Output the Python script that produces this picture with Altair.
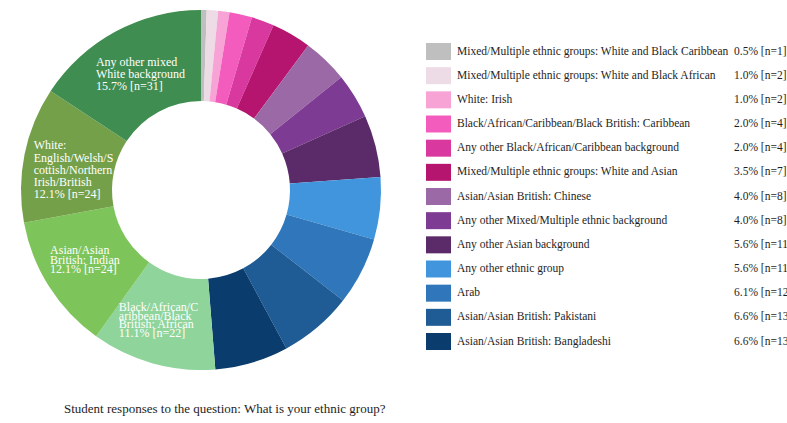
import altair as alt
import pandas as pd

categories = [
    "Mixed/Multiple ethnic groups: White and Black Caribbean",
    "Mixed/Multiple ethnic groups: White and Black African",
    "White: Irish",
    "Black/African/Caribbean/Black British: Caribbean",
    "Any other Black/African/Caribbean background",
    "Mixed/Multiple ethnic groups: White and Asian",
    "Asian/Asian British: Chinese",
    "Any other Mixed/Multiple ethnic background",
    "Any other Asian background",
    "Any other ethnic group",
    "Arab",
    "Asian/Asian British: Pakistani",
    "Asian/Asian British: Bangladeshi",
    "Black/African/Caribbean/Black British: African",
    "Asian/Asian British: Indian",
    "White: English/Welsh/Scottish/Northern Irish/British",
    "Any other mixed White background",
]
counts = [1, 2, 2, 4, 4, 7, 8, 8, 11, 11, 12, 13, 13, 22, 24, 24, 31]
percents = [0.5, 1.0, 1.0, 2.0, 2.0, 3.5, 4.0, 4.0, 5.6, 5.6, 6.1, 6.6, 6.6,
            11.1, 12.1, 12.1, 15.7]
colors = [
    "#bfbfbf", "#eddbe6", "#f7a3d6", "#f35cbd", "#d9389e", "#b5156f",
    "#9b69a6", "#7e3b93", "#5b2a68", "#4095dc", "#2f77ba", "#1f5b94",
    "#0a3c6e", "#8fd49a", "#7dc45a", "#74a04a", "#3f8d50",
]
slice_labels = [""] * 13 + [
    "Black/African/C\naribbean/Black\nBritish: African\n11.1% [n=22]",
    "Asian/Asian\nBritish: Indian\n12.1% [n=24]",
    "White:\nEnglish/Welsh/S\ncottish/Northern\nIrish/British\n12.1% [n=24]",
    "Any other mixed\nWhite background\n15.7% [n=31]",
]
legend_rows = 13
caption = "Student responses to the question: What is your ethnic group?"

df = pd.DataFrame({
    "category": categories,
    "n": counts,
    "pct": percents,
    "order": list(range(len(categories))),
    "slice_label": slice_labels,
})
df["value_label"] = [f"{p:.1f}% [n={n}]" for p, n in zip(percents, counts)]

FONT = "Liberation Serif"
TEXT_COLOR = "#1e1e1e"
CX, CY = 201, 190

base = alt.Chart(df)
color = alt.Color("category:N", scale=alt.Scale(domain=categories, range=colors), legend=None)
theta = alt.Theta("n:Q", stack=True)
order = alt.Order("order:Q")

donut = base.mark_arc(outerRadius=180, innerRadius=89).encode(
    theta=theta, order=order, color=color,
    x=alt.value(CX), y=alt.value(CY),
)

# (row index, dx, dy, lineHeight)
label_specs = [
    (13, -46, -13, 8.5),
    (14, -37, -12, 9.5),
    (15, -35, -18, 12.3),
    (16, -41, -9, 11.8),
]
label_layers = []
for idx, dx, dy, lh in label_specs:
    label_layers.append(
        base.transform_calculate(lbl=f"datum.order == {idx} ? datum.slice_label : ''")
        .mark_text(align="left", baseline="middle", dx=dx, dy=dy, lineHeight=lh,
                   lineBreak="\n", font=FONT, fontSize=12, color="white", radius=135)
        .encode(theta=theta, order=order, text="lbl:N",
                x=alt.value(CX), y=alt.value(CY))
    )

leg = base.transform_filter(alt.datum.order < legend_rows)
y_enc = alt.Y("category:N", sort=categories[:legend_rows],
              scale=alt.Scale(type="point", range=[51.5, 341.5], padding=0), axis=None)

symbols = leg.mark_point(shape="M-1.47,-1H1.47V1H-1.47Z", filled=True, size=289,
                         opacity=1, strokeWidth=0).encode(
    x=alt.value(438.5), y=y_enc, color=color)
names = leg.mark_text(align="left", baseline="middle", font=FONT, fontSize=11.5,
                      color=TEXT_COLOR).encode(x=alt.value(457), y=y_enc, text="category:N")
values = leg.mark_text(align="left", baseline="middle", font=FONT, fontSize=11.5,
                       color=TEXT_COLOR).encode(x=alt.value(734), y=y_enc, text="value_label:N")

cap = alt.Chart(pd.DataFrame({"caption": [caption]})).mark_text(
    align="left", baseline="middle", font=FONT, fontSize=13, color=TEXT_COLOR
).encode(x=alt.value(64), y=alt.value(409), text="caption:N")

chart = alt.layer(donut, *label_layers, symbols, names, values, cap).properties(
    width=787, height=423,
    autosize=alt.AutoSizeParams(type="none"),
    padding=0,
    background="white",
).configure_view(stroke=None)

chart.save("out.html", embed_options={"renderer": "svg", "actions": False})
